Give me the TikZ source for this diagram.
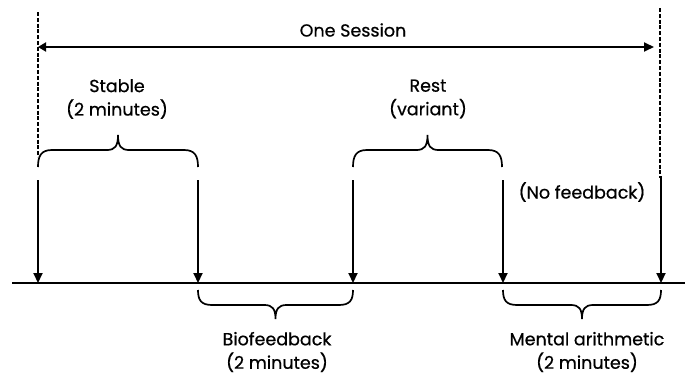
\documentclass[tikz,border=0pt]{standalone}
\usepackage{fontspec}
\setmainfont{Poppins}[FakeBold=0.6]
\usetikzlibrary{arrows.meta}
\begin{document}
\begin{tikzpicture}[x=1pt,y=-1pt,
  lbl/.style={font=\fontsize{17.5}{23.5}\selectfont, align=center, inner sep=0pt},
  varrow/.style={line width=2.1pt, -{Triangle[length=10pt,width=9pt]}},
  dashline/.style={line width=1.9pt, dash pattern=on 4pt off 1.8pt},
  bracepath/.style={line width=1.7pt},
]
\useasboundingbox (0,0) rectangle (685,375);
% coordinates
\coordinate (dl1) at (38,12);   \coordinate (dl2) at (38,157);
\coordinate (dr1) at (660,8);   \coordinate (dr2) at (660,178);
\coordinate (a1) at (38,180);   \coordinate (b1) at (38,283);
\coordinate (a2) at (198,180);  \coordinate (b2) at (198,283);
\coordinate (a3) at (353,180);  \coordinate (b3) at (353,283);
\coordinate (a4) at (503,180);  \coordinate (b4) at (503,283);
\coordinate (a5) at (661,176);  \coordinate (b5) at (661,283);
\coordinate (t1) at (12,283);   \coordinate (t2) at (685,283);
\coordinate (s1) at (38,47);    \coordinate (s2) at (654,47);
% dashed lines
\draw[dashline] (dl1) -- (dl2);
\draw[dashline] (dr1) -- (dr2);
% session arrow
\draw[line width=1.8pt, {Triangle[length=8pt,width=9pt]}-{Triangle[length=10pt,width=9pt]}] (s1) -- (s2);
\node[lbl] (session) at (353,30) {One Session};
% timeline
\draw[line width=2.1pt] (t1) -- (t2);
% vertical arrows
\foreach \i in {1,...,5} \draw[varrow] (a\i) -- (b\i);
% top braces
\foreach \xa/\xb in {38/198, 353/502} {
  \pgfmathsetmacro{\xm}{(\xa+\xb)/2}
  \draw[bracepath] (\xa,167) .. controls (\xa,156) and (\xa+3,150) .. (\xa+14,150)
    -- (\xm-11,150) .. controls (\xm-3,150) and (\xm,146) .. (\xm,135)
    .. controls (\xm,146) and (\xm+3,150) .. (\xm+11,150)
    -- (\xb-14,150) .. controls (\xb-3,150) and (\xb,156) .. (\xb,167);
}
% bottom braces
\foreach \xa/\xb in {198/353, 503/661} {
  \pgfmathsetmacro{\xm}{(\xa+\xb)/2}
  \draw[bracepath] (\xa,290) .. controls (\xa,300) and (\xa+3,305) .. (\xa+14,305)
    -- (\xm-11,305) .. controls (\xm-3,305) and (\xm,309) .. (\xm,319)
    .. controls (\xm,309) and (\xm+3,305) .. (\xm+11,305)
    -- (\xb-14,305) .. controls (\xb-3,305) and (\xb,300) .. (\xb,290);
}
% labels
\node[lbl] (stable) at (117,99) {Stable\\(2 minutes)};
\node[lbl] (rest) at (428,99) {Rest\\(variant)};
\node[lbl] (nofb) at (582,192) {(No feedback)};
\node[lbl] (bio) at (277,352) {Biofeedback\\(2 minutes)};
\node[lbl] (ment) at (587,352) {Mental arithmetic\\(2 minutes)};
\end{tikzpicture}
\end{document}
